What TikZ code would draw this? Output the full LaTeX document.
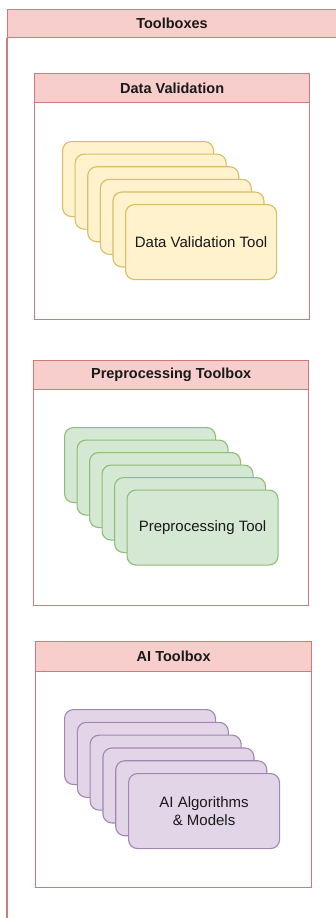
\documentclass[tikz,border=0pt]{standalone}
\usepackage{fontspec}
\setmainfont{Liberation Sans}
\begin{document}
\begin{tikzpicture}[x=1pt,y=-1pt,
  every node/.style={font=\fontsize{15}{17.5}\selectfont, text=black!90},
  frame/.style={draw=hdrline, line width=1.3pt},
  header/.style={frame, fill=hdrfill, font=\fontsize{14.5}{17}\selectfont\bfseries,
    anchor=north west, inner sep=0pt, minimum width=275, minimum height=29},
  body/.style={frame, fill=white, anchor=north west, inner sep=0pt,
    minimum width=275, minimum height=217},
  card/.style={draw=#1line, fill=#1fill, line width=1.1pt, rounded corners=9pt,
    anchor=north west, inner sep=0pt, minimum width=151, minimum height=75,
    align=center}
]
\definecolor{hdrfill}{HTML}{F8CECC}
\definecolor{hdrline}{HTML}{D2797B}
\definecolor{yelfill}{HTML}{FFF2CC}
\definecolor{yelline}{HTML}{D9BD65}
\definecolor{grnfill}{HTML}{D5E8D4}
\definecolor{grnline}{HTML}{8FBD75}
\definecolor{purfill}{HTML}{E1D5E7}
\definecolor{purline}{HTML}{A386B2}

\useasboundingbox (0,0) rectangle (335,918);
\fill[white] (0,0) rectangle (335,918);

% outer container "Toolboxes"
\node[header, minimum width=340, minimum height=28] (tbhead) at (7,9) {};
\node at (172,23) (tbtitle) {\bfseries\fontsize{14.5}{17}\selectfont Toolboxes};
\draw[frame] (tbhead.south west) -- (7,930) coordinate (tbend);

% Data Validation
\node[body] (dvbody) at (34,102) {};
\node[header] (dvhead) at (34,73) {Data Validation};
\foreach \i in {0,...,4}
  \node[card=yel] (dv\i) at (62+12.6*\i,141+12.6*\i) {};
\node[card=yel] (dv5) at (62+12.6*5,141+12.6*5) {Data Validation Tool};

% Preprocessing Toolbox
\node[body, minimum height=216] (ppbody) at (33,389) {};
\node[header] (pphead) at (33,360) {Preprocessing Toolbox};
\foreach \i in {0,...,4}
  \node[card=grn] (pp\i) at (64+12.5*\i,427+12.5*\i) {};
\node[card=grn] (pp5) at (64+12.5*5,427+12.5*5) {Preprocessing Tool};

% AI Toolbox
\node[body, minimum width=276, minimum height=216] (aibody) at (35,671) {};
\node[header, minimum width=276, minimum height=30] (aihead) at (35,641) {AI Toolbox};
\foreach \i in {0,...,4}
  \node[card=pur] (ai\i) at (64+12.8*\i,709+12.8*\i) {};
\node[card=pur] (ai5) at (64+12.8*5,709+12.8*5) {AI Algorithms\\\& Models};
\end{tikzpicture}
\end{document}
